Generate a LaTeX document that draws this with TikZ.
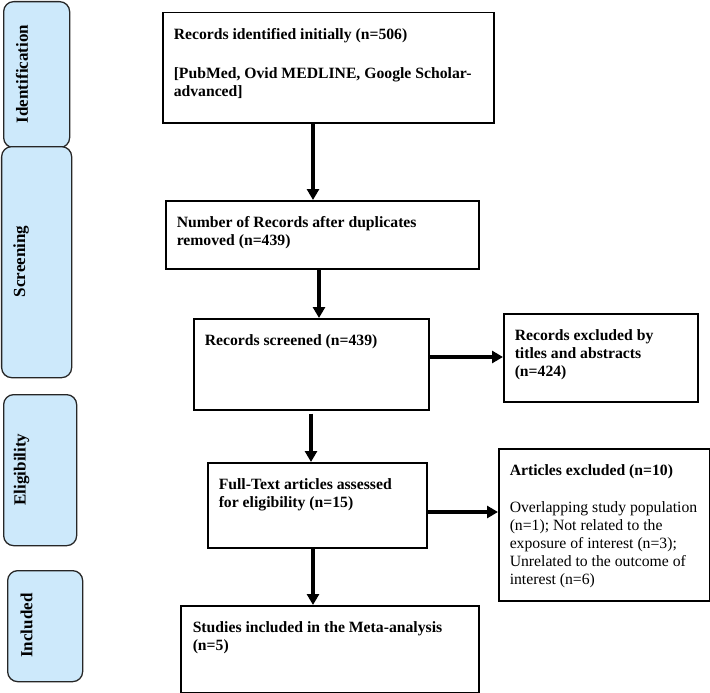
\documentclass[tikz,border=0pt]{standalone}
\usepackage{fontspec}
\setmainfont{Liberation Serif}
\usetikzlibrary{arrows.meta}
\definecolor{sidefill}{HTML}{CDE9FB}
\newcommand{\bxt}[4]{\begin{minipage}[t][#2][t]{#1}\vspace*{15.4pt}\raggedright\leftskip=#3\relax\rule{0pt}{11pt}#4\end{minipage}}
\begin{document}
\begin{tikzpicture}[x=1pt,y=-1pt,
  box/.style={draw, line width=1.5pt, inner sep=0pt, anchor=north west, font=\fontsize{15.7}{18.2}\selectfont\bfseries},
  side/.style={draw=black!85, line width=1.3pt, fill=sidefill, rounded corners=10pt, inner sep=0pt, anchor=north west},
  sidelabel/.style={rotate=90, font=\fontsize{17}{20}\selectfont\bfseries, inner sep=0pt},
  arr/.style={line width=3.5pt, -{Triangle[length=11pt,width=12pt]}}]
\useasboundingbox (0,0) rectangle (710,693);
% side boxes
\node[side, minimum width=66pt, minimum height=146pt] (sid) at (3,1) {};
\node[side, minimum width=70pt, minimum height=231pt] (sscr) at (1,146) {};
\node[side, minimum width=73pt, minimum height=151pt] (selg) at (3,394) {};
\node[side, minimum width=75pt, minimum height=111pt] (sinc) at (7,570) {};
\node[sidelabel] (lid) at (22,74) {Identification};
\node[sidelabel] (lscr) at (21,261.5) {Screening};
\node[sidelabel] (lelg) at (21.5,469.5) {Eligibility};
\node[sidelabel] (linc) at (26.5,625.5) {Included};
% main boxes
\node[box] (b1) at (162,12) {\bxt{331pt}{110pt}{11pt}{Records identified initially (n=506)\\[20.8pt][PubMed, Ovid MEDLINE, Google Scholar-\\advanced]}};
\node[box] (b2) at (165,200) {\bxt{313pt}{68pt}{11pt}{Number of Records after duplicates\\removed (n=439)}};
\node[box] (b3) at (193,318) {\bxt{235pt}{91pt}{11pt}{Records screened (n=439)}};
\node[box] (b4) at (207,462) {\bxt{219pt}{85pt}{11pt}{Full-Text articles assessed\\for eligibility (n=15)}};
\node[box] (b5) at (180,605) {\bxt{298pt}{87pt}{12pt}{Studies included in the Meta-analysis\\(n=5)}};
\node[box] (r1) at (503,313) {\bxt{194pt}{88pt}{11pt}{Records excluded by\\titles and abstracts\\(n=424)}};
\node[box] (r2) at (498,448) {\bxt{211pt}{152pt}{11pt}{Articles excluded (n=10)\\[18.8pt]{\mdseries Overlapping study population\\(n=1); Not related to the\\exposure of interest (n=3);\\Unrelated to the outcome of\\interest (n=6)}}};
% connector positions
\coordinate (x1) at (313,0);
\coordinate (x2) at (319,0);
\coordinate (x3) at (311,0);
\coordinate (x4) at (313,0);
\coordinate (y5) at (0,357);
\coordinate (y6) at (0,512);
\draw[arr] (x1 |- b1.south) -- (x1 |- b2.north);
\draw[arr] (x2 |- b2.south) -- (x2 |- b3.north);
\draw[arr] ([yshift=-3pt]x3 |- b3.south) -- (x3 |- b4.north);
\draw[arr] (x4 |- b4.south) -- (x4 |- b5.north);
\draw[arr] (b3.east |- y5) -- (r1.west |- y5);
\draw[arr] (b4.east |- y6) -- (r2.west |- y6);
\end{tikzpicture}
\end{document}
